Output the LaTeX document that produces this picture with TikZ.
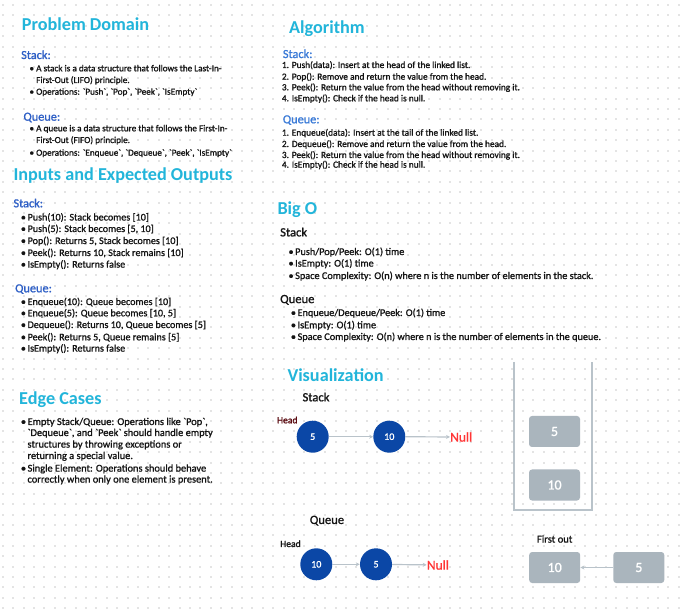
\documentclass[tikz,border=0pt]{standalone}
\usepackage{fontspec}
\setmainfont{Carlito}[FakeBold=1.1]
\newfontfamily\hfont{Carlito Bold}
\usetikzlibrary{arrows.meta}
\definecolor{headc}{HTML}{22B5DA}
\definecolor{subc}{HTML}{2E5FC6}
\definecolor{subc2}{HTML}{3B7BD8}
\definecolor{bodyc}{HTML}{141414}
\definecolor{circc}{HTML}{0B47A6}
\definecolor{boxc}{HTML}{AAB5BD}
\definecolor{linec}{HTML}{B9C3CA}
\definecolor{nullc}{HTML}{FF3535}
\definecolor{dotc}{HTML}{E4E4E4}
\definecolor{headred}{HTML}{5A0A10}
\tikzset{
  heading/.style={anchor=base west,inner sep=0pt,text=headc,font=\fontsize{18.2}{18.2}\selectfont\hfont},
  sub/.style={anchor=base west,inner sep=0pt,text=subc,font=\fontsize{12.3}{12.3}\selectfont},
  subk/.style={anchor=base west,inner sep=0pt,text=bodyc,font=\fontsize{12.6}{12.6}\selectfont},
  txt/.style={anchor=base west,inner sep=0pt,text=bodyc,font=\fontsize{10.2}{10.2}\selectfont},
  txtpd/.style={txt,font=\fontsize{9.2}{9.2}\selectfont},
  txtio/.style={txt,font=\fontsize{10.1}{10.1}\selectfont},
  txtbo/.style={txt,font=\fontsize{10.25}{10.25}\selectfont},
  txtec/.style={txt,font=\fontsize{10.4}{10.4}\selectfont},
  alg/.style={anchor=base west,inner sep=0pt,text=bodyc,font=\fontsize{9.35}{9.35}\selectfont},
  lnode/.style={circle,fill=circc,minimum size=32pt,inner sep=0pt,text=white,font=\fontsize{10}{10}\selectfont},
  gbox/.style={rectangle,rounded corners=3pt,fill=boxc,minimum width=51pt,minimum height=31pt,inner sep=0pt,text=white,font=\fontsize{14}{14}\selectfont},
  conn/.style={draw=linec,line width=1.2pt,-{Stealth[length=4pt,width=4pt]}},
  nulltxt/.style={text=nullc,inner sep=0pt,font=\fontsize{13.5}{13.5}\selectfont},
  small/.style={inner sep=0pt,font=\fontsize{9.6}{9.6}\selectfont},
}
\newcommand{\bul}{\makebox[6.7pt][l]{\textbullet}}
\begin{document}
\begin{tikzpicture}[x=1pt,y=-1pt]
\useasboundingbox (0,0) rectangle (683,609);
\fill[white] (0,0) rectangle (683,609);
% dot grid
\foreach \i in {0,...,65}{
  \foreach \j in {0,...,58}{
    \fill[dotc] ({2.7+10.4*\i-1},{5+10.4*\j-1}) rectangle ++(2,2);
  }
}
% Problem Domain
\node[heading] (h1) at (21.7,30.8) {Problem Domain};
\node[sub] (pds) at (21,59) {Stack:};
\node[txtpd] (pd1) at (29.3,71.3) {\bul A stack is a data structure that follows the Last-In-};
\node[txtpd] (pd2) at (36,83) {First-Out (LIFO) principle.};
\node[txtpd] (pd3) at (29.3,94.7) {\bul Operations: \textasciigrave Push\textasciigrave, \textasciigrave Pop\textasciigrave, \textasciigrave Peek\textasciigrave, \textasciigrave IsEmpty\textasciigrave};
\node[sub] (pdq) at (23.3,120.7) {Queue:};
\node[txtpd] (pd4) at (29.3,131.3) {\bul A queue is a data structure that follows the First-In-};
\node[txtpd] (pd5) at (36,143) {First-Out (FIFO) principle.};
\node[txtpd] (pd6) at (29.3,155.7) {\bul Operations: \textasciigrave Enqueue\textasciigrave, \textasciigrave Dequeue\textasciigrave, \textasciigrave Peek\textasciigrave, \textasciigrave IsEmpty\textasciigrave};
% Inputs
\node[heading] (h2) at (13.3,180.8) {Inputs and Expected Outputs};
\node[sub] (ios) at (13.3,207.3) {Stack:};
\node[txtio] (io1) at (20.7,220.5) {\bul Push(10): Stack becomes [10]};
\node[txtio] (io2) at (20.7,232) {\bul Push(5): Stack becomes [5, 10]};
\node[txtio] (io3) at (20.7,244) {\bul Pop(): Returns 5, Stack becomes [10]};
\node[txtio] (io4) at (20.7,256) {\bul Peek(): Returns 10, Stack remains [10]};
\node[txtio] (io5) at (20.7,267.6) {\bul IsEmpty(): Returns false};
\node[sub] (ioq) at (15,292.3) {Queue:};
\node[txtio] (io6) at (20.7,305) {\bul Enqueue(10): Queue becomes [10]};
\node[txtio] (io7) at (20.7,316.3) {\bul Enqueue(5): Queue becomes [10, 5]};
\node[txtio] (io8) at (20.7,328) {\bul Dequeue(): Returns 10, Queue becomes [5]};
\node[txtio] (io9) at (20.7,340.3) {\bul Peek(): Returns 5, Queue remains [5]};
\node[txtio] (io10) at (20.7,351.6) {\bul IsEmpty(): Returns false};
% Algorithm
\node[heading] (h3) at (289,33.1) {Algorithm};
\node[sub,text=subc2] (als) at (282.7,58) {Stack:};
\node[alg] (al1) at (281.7,68) {1. Push(data): Insert at the head of the linked list.};
\node[alg] (al2) at (281.7,79.7) {2. Pop(): Remove and return the value from the head.};
\node[alg] (al3) at (281.7,90.3) {3. Peek(): Return the value from the head without removing it.};
\node[alg] (al4) at (281.7,101.3) {4. IsEmpty(): Check if the head is null.};
\node[sub,text=subc2] (alq) at (282.7,123.3) {Queue:};
\node[alg] (al5) at (281.7,135.7) {1. Enqueue(data): Insert at the tail of the linked list.};
\node[alg] (al6) at (281.7,147) {2. Dequeue(): Remove and return the value from the head.};
\node[alg] (al7) at (281.7,158) {3. Peek(): Return the value from the head without removing it.};
\node[alg] (al8) at (281.7,167.7) {4. IsEmpty(): Check if the head is null.};
% Big O
\node[heading] (h4) at (277.3,214.1) {Big O};
\node[subk] (bos) at (280,236.4) {Stack};
\node[txtbo] (bo1) at (288.3,255) {\bul Push/Pop/Peek: O(1) time};
\node[txtbo] (bo2) at (288.3,266.6) {\bul IsEmpty: O(1) time};
\node[txtbo] (bo3) at (288.3,279) {\bul Space Complexity: O(n) where n is the number of elements in the stack.};
\node[subk] (boq) at (280,303.1) {Queue};
\node[txtbo] (bo4) at (290.7,316) {\bul Enqueue/Dequeue/Peek: O(1) time};
\node[txtbo] (bo5) at (290.7,328.3) {\bul IsEmpty: O(1) time};
\node[txtbo] (bo6) at (290.7,340) {\bul Space Complexity: O(n) where n is the number of elements in the queue.};
% Edge cases
\node[heading] (h5) at (19,404.1) {Edge Cases};
\node[txtec] (ec1) at (20.7,425) {\bul Empty Stack/Queue: Operations like \textasciigrave Pop\textasciigrave,};
\node[txtec] (ec2) at (27.3,436) {\textasciigrave Dequeue\textasciigrave, and \textasciigrave Peek\textasciigrave\ should handle empty};
\node[txtec] (ec3) at (27.3,447.6) {structures by throwing exceptions or};
\node[txtec] (ec4) at (27.3,459) {returning a special value.};
\node[txtec] (ec5) at (20.7,471.6) {\bul Single Element: Operations should behave};
\node[txtec] (ec6) at (27.3,482.6) {correctly when only one element is present.};
% Visualization
\node[heading] (h6) at (287.3,381.5) {Visualization};
\node[subk,anchor=center] (vs) at (316,397) {Stack};
\node[small,text=headred] (sh) at (287.3,420) {Head};
\node[lnode] (s5) at (312.7,436.7) {5};
\node[lnode] (s10) at (389.3,436.7) {10};
\node[nulltxt,anchor=west] (sn) at (450,437) {Null};
\draw[conn] (s5) -- (s10);
\draw[conn] (s10) -- (sn);
\node[subk,anchor=center] (vq) at (327,520.7) {Queue};
\node[small,text=bodyc] (qh) at (290.5,543.7) {Head};
\node[lnode] (q10) at (316.3,564.3) {10};
\node[lnode] (q5) at (376,564.3) {5};
\node[nulltxt,anchor=west] (qn) at (426.7,565) {Null};
\draw[conn] (q10) -- (q5);
\draw[conn] (q5) -- (qn);
% stack container
\coordinate (ctl) at (514,362);
\coordinate (cbl) at (514,510);
\coordinate (cbr) at (592,510);
\coordinate (ctr) at (592,362);
\draw[linec,line width=1.6pt] (ctl) -- (cbl) -- (cbr) -- (ctr);
\node[gbox] (b5) at (554.5,431.5) {5};
\node[gbox] (b10) at (554.5,485) {10};
% queue boxes
\node[small,text=bodyc,font=\fontsize{10.6}{10.6}\selectfont] (fo) at (554.7,539) {First out};
\node[gbox] (qb10) at (554.7,567.5) {10};
\node[gbox] (qb5) at (638.8,567.5) {5};
\draw[conn] (qb5) -- (qb10);
\end{tikzpicture}
\end{document}
